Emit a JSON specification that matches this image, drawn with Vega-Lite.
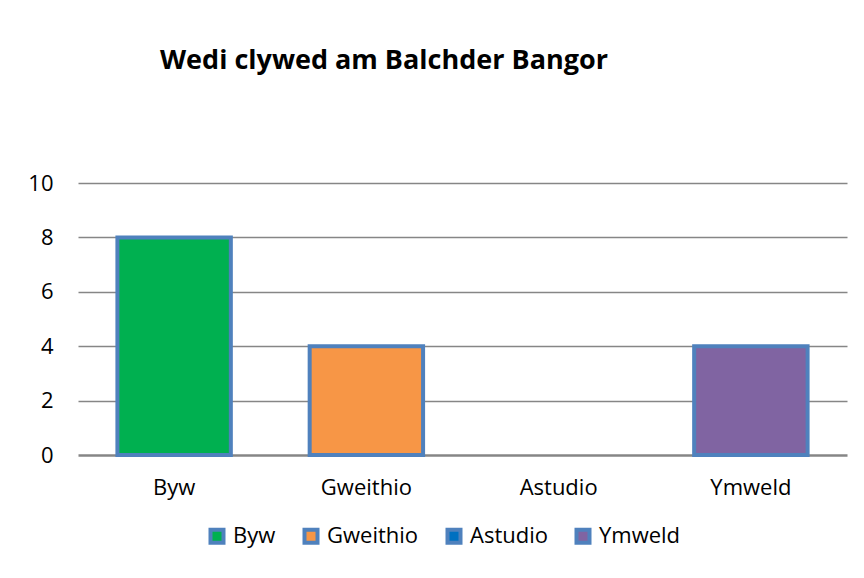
{
  "$schema": "https://vega.github.io/schema/vega-lite/v6.json",
  "autosize": "none",
  "width": 769,
  "height": 272,
  "padding": {"left": 78, "top": 183, "right": 17, "bottom": 123},
  "background": "white",
  "title": {
    "text": "Wedi clywed am Balchder Bangor",
    "anchor": "start",
    "frame": "group",
    "dx": 82,
    "offset": 97,
    "font": "Open Sans",
    "fontSize": 27,
    "fontWeight": "bold",
    "color": "black"
  },
  "data": {
    "values": [
      {"category": "Byw", "value": 8},
      {"category": "Gweithio", "value": 4},
      {"category": "Astudio", "value": 0},
      {"category": "Ymweld", "value": 4}
    ]
  },
  "mark": {"type": "bar", "stroke": "#4F81BD"},
  "encoding": {
    "x": {
      "field": "category",
      "type": "nominal",
      "sort": null,
      "scale": {"paddingInner": 0.41, "paddingOuter": 0.205},
      "axis": {
        "title": null,
        "labelAngle": 0,
        "labelFont": "Open Sans",
        "labelFontSize": 22,
        "labelColor": "black",
        "labelPadding": 22,
        "ticks": false,
        "domain": false
      }
    },
    "y": {
      "field": "value",
      "type": "quantitative",
      "scale": {"domain": [0, 10]},
      "axis": {
        "title": null,
        "values": [0, 2, 4, 6, 8, 10],
        "labelFont": "Open Sans",
        "labelFontSize": 22,
        "labelColor": "black",
        "labelPadding": 25,
        "ticks": false,
        "domain": false,
        "grid": true,
        "gridColor": "#868686",
        "gridWidth": {"condition": {"test": "datum.value === 0", "value": 2.5}, "value": 1.5}
      }
    },
    "color": {
      "field": "category",
      "type": "nominal",
      "sort": null,
      "scale": {
        "domain": ["Byw", "Gweithio", "Astudio", "Ymweld"],
        "range": ["#00B050", "#F79646", "#0070C0", "#8064A2"]
      },
      "legend": {
        "title": null,
        "orient": "none",
        "direction": "horizontal",
        "legendX": 128,
        "legendY": 342,
        "symbolType": "square",
        "symbolSize": 169,
        "symbolStrokeColor": "#4F81BD",
        "symbolStrokeWidth": 4,
        "symbolOpacity": 1,
        "labelFont": "Open Sans",
        "labelFontSize": 22,
        "labelColor": "black",
        "labelOffset": 5,
        "columnPadding": 20
      }
    },
    "strokeWidth": {
      "condition": {"test": "datum.value == 0", "value": 0},
      "value": 4
    }
  },
  "config": {"view": {"stroke": null}}
}
